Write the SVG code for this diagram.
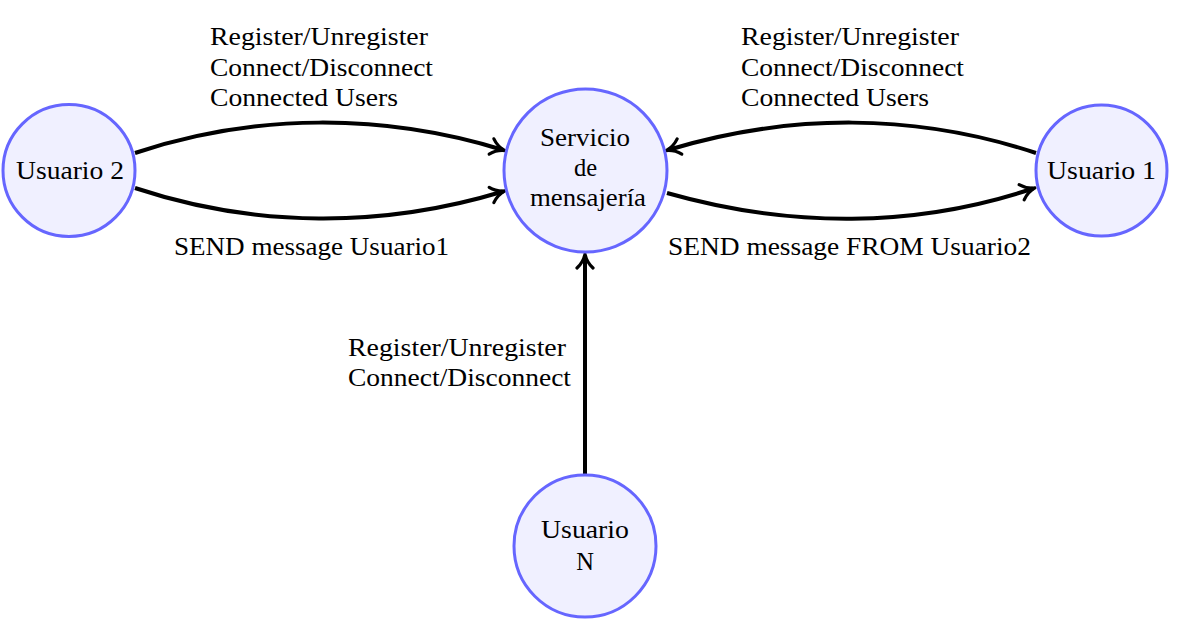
<svg xmlns="http://www.w3.org/2000/svg" width="1178" height="625" viewBox="0 0 1178 625">
<defs>
<style>
.node{fill:#f0f0ff;stroke:#6666ff;stroke-width:3}
.t{font-family:"Liberation Serif","DejaVu Serif",serif;font-size:24.5px;fill:#000}
.c{text-anchor:middle}
.e{fill:none;stroke:#000;stroke-width:4;marker-end:url(#arr)}
</style>
<marker id="arr" markerUnits="userSpaceOnUse" viewBox="-14 -10 18 20" refX="0" refY="0" markerWidth="18" markerHeight="20" orient="auto" overflow="visible">
<path d="M-12,-8 C-7.5,-3 -3,-1 2,0 C-3,1 -7.5,3 -12,8" fill="none" stroke="#000" stroke-width="3.2" stroke-linecap="round" stroke-linejoin="round"/>
</marker>
</defs>
<rect width="1178" height="625" fill="#fff"/>
<g id="connectors">
<path class="e" d="M135,153 C255,113 383,113 503,150"/>
<path class="e" d="M135,188 C255,228 383,228 503,191.5"/>
<path class="e" d="M1036,153 C915,113 790,113 668,150"/>
<path class="e" d="M667,193 C790,228 915,228 1033,188.5"/>
<path class="e" d="M585,475 L585,256"/>
</g>
<g id="labels">
<text class="t" x="210" y="45" textLength="218" lengthAdjust="spacingAndGlyphs">Register/Unregister</text>
<text class="t" x="210" y="76" textLength="223" lengthAdjust="spacingAndGlyphs">Connect/Disconnect</text>
<text class="t" x="210" y="106" textLength="188" lengthAdjust="spacingAndGlyphs">Connected Users</text>
<text class="t" x="741" y="45" textLength="218" lengthAdjust="spacingAndGlyphs">Register/Unregister</text>
<text class="t" x="741" y="76" textLength="223" lengthAdjust="spacingAndGlyphs">Connect/Disconnect</text>
<text class="t" x="741" y="106" textLength="188" lengthAdjust="spacingAndGlyphs">Connected Users</text>
<text class="t" x="174" y="255" textLength="275" lengthAdjust="spacingAndGlyphs">SEND message Usuario1</text>
<text class="t" x="668" y="255" textLength="363" lengthAdjust="spacingAndGlyphs">SEND message FROM Usuario2</text>
<text class="t" x="348" y="356" textLength="218" lengthAdjust="spacingAndGlyphs">Register/Unregister</text>
<text class="t" x="348" y="386" textLength="223" lengthAdjust="spacingAndGlyphs">Connect/Disconnect</text>
</g>
<g id="usuario2">
<circle class="node" cx="69" cy="170.5" r="66"/>
<text class="t" x="16" y="179" textLength="108" lengthAdjust="spacingAndGlyphs">Usuario 2</text>
</g>
<g id="servicio">
<circle class="node" cx="585.5" cy="170.5" r="81.5"/>
<text class="t" x="540" y="146" textLength="90" lengthAdjust="spacingAndGlyphs">Servicio</text>
<text class="t c" x="585.5" y="176">de</text>
<text class="t" x="530" y="206" textLength="116" lengthAdjust="spacingAndGlyphs">mensajería</text>
</g>
<g id="usuario1">
<circle class="node" cx="1101.5" cy="170.5" r="65.5"/>
<text class="t" x="1047" y="179" textLength="109" lengthAdjust="spacingAndGlyphs">Usuario 1</text>
</g>
<g id="usuarioN">
<circle class="node" cx="585" cy="546" r="71"/>
<text class="t" x="541" y="538" textLength="88" lengthAdjust="spacingAndGlyphs">Usuario</text>
<text class="t c" x="585" y="570">N</text>
</g>
</svg>
